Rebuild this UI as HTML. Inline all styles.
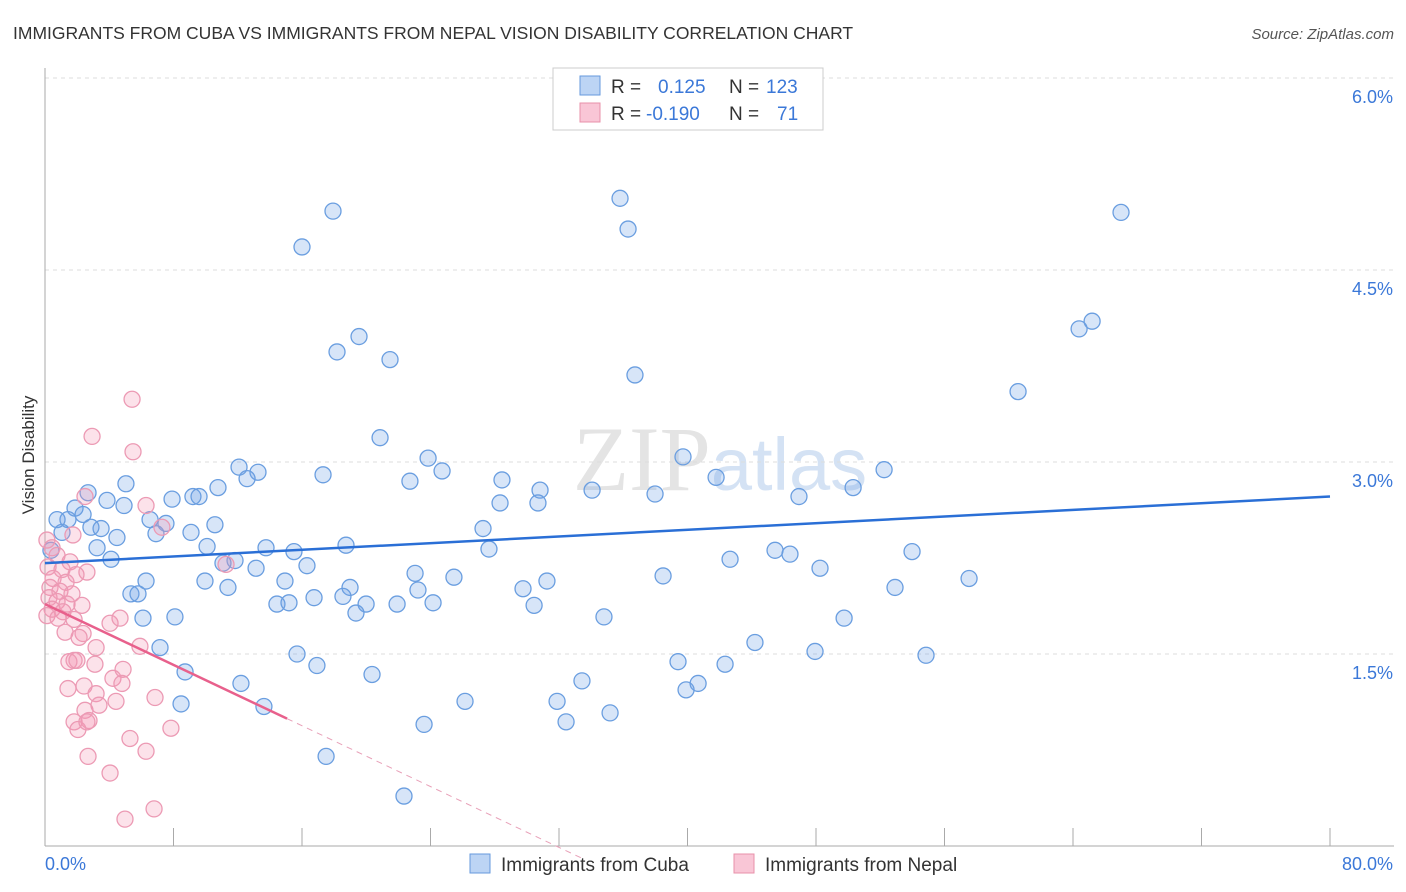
<!DOCTYPE html>
<html><head><meta charset="utf-8">
<style>
body{margin:0;background:#fff;font-family:"Liberation Sans",sans-serif;}
svg{display:block}
</style></head><body>
<svg id="chart" width="1406" height="892">
<text x="13" y="39" font-size="17.5" fill="#333">IMMIGRANTS FROM CUBA VS IMMIGRANTS FROM NEPAL VISION DISABILITY CORRELATION CHART</text>
<text x="1394" y="39" font-size="15" fill="#555" font-style="italic" text-anchor="end">Source: ZipAtlas.com</text>
<text x="720" y="490" font-size="92" fill="#e4e4e4" text-anchor="middle" font-family="Liberation Serif,serif">ZIP<tspan fill="#d4e2f4" font-family="Liberation Sans,sans-serif" font-size="74">atlas</tspan></text>
<g id="grid"></g>
<g id="axes"></g>
<g id="marks"></g>
<text transform="translate(34,455) rotate(-90)" font-size="17" fill="#333" text-anchor="middle">Vision Disability</text>
<g>
<rect x="553" y="68" width="270" height="62" fill="#fff" stroke="#ccc"/>
<rect x="580" y="76" width="20" height="19" fill="#bcd4f4" stroke="#6699dd"/>
<rect x="580" y="103" width="20" height="19" fill="#f9c6d6" stroke="#e890aa"/>
<text x="611" y="93" font-size="19" fill="#333">R = <tspan fill="#3b78d8" x="658">0.125</tspan><tspan fill="#333" x="729">N =</tspan><tspan fill="#3b78d8" x="766">123</tspan></text>
<text x="611" y="120" font-size="19" fill="#333">R = <tspan fill="#3b78d8" x="646">-0.190</tspan><tspan fill="#333" x="729">N =</tspan><tspan fill="#3b78d8" x="777">71</tspan></text>
</g>
<g>
<rect x="470" y="854" width="20" height="19" fill="#bcd4f4" stroke="#6699dd"/>
<text x="501" y="871" font-size="19" fill="#333">Immigrants from Cuba</text>
<rect x="734" y="854" width="20" height="19" fill="#f9c6d6" stroke="#e890aa"/>
<text x="765" y="871" font-size="19" fill="#333">Immigrants from Nepal</text>
</g>
</svg>
<script>
const cubaX=[17.93,35.80,36.30,66.99,16.00,65.19,64.38,19.55,18.18,21.48,36.73,60.58,20.86,23.85,39.72,24.72,12.08,13.26,17.31,28.45,52.24,41.78,5.04,22.72,12.58,10.77,50.31,30.82,34.06,37.98,46.94,2.68,7.91,9.21,9.59,3.86,28.33,30.69,4.92,1.87,2.37,6.54,0.75,1.43,7.53,10.58,27.27,2.86,3.49,9.09,1.06,4.48,6.91,18.74,3.24,10.09,13.76,27.64,15.50,45.45,46.38,53.98,0.37,42.65,4.11,11.83,11.08,13.14,16.31,48.25,23.04,25.46,38.48,57.53,6.29,9.96,14.94,11.39,31.25,18.99,29.76,23.22,52.92,5.35,5.79,16.75,18.55,14.44,15.19,21.92,19.99,30.45,24.16,8.09,6.10,19.36,34.80,49.75,44.20,7.16,15.69,47.94,54.85,39.41,42.34,16.93,8.72,20.36,33.43,40.66,39.91,12.20,26.15,31.88,8.47,13.63,35.18,32.44,23.60,17.50,22.35];
const cubaY=[4.96,5.06,4.82,4.95,4.68,4.10,4.04,3.98,3.86,3.80,3.68,3.55,3.19,3.03,3.04,2.93,2.96,2.92,2.90,2.86,2.94,2.88,2.83,2.85,2.87,2.80,2.80,2.78,2.78,2.75,2.73,2.76,2.71,2.73,2.73,2.70,2.68,2.68,2.66,2.64,2.59,2.55,2.55,2.55,2.52,2.51,2.48,2.49,2.48,2.45,2.45,2.41,2.44,2.35,2.33,2.34,2.33,2.32,2.30,2.31,2.28,2.30,2.31,2.24,2.24,2.23,2.21,2.17,2.19,2.17,2.13,2.10,2.11,2.09,2.07,2.07,2.07,2.02,2.07,2.02,2.01,2.00,2.02,1.97,1.97,1.94,1.95,1.89,1.90,1.89,1.89,1.88,1.90,1.79,1.78,1.82,1.79,1.78,1.59,1.55,1.50,1.52,1.49,1.44,1.42,1.41,1.36,1.34,1.29,1.27,1.22,1.27,1.13,1.13,1.11,1.09,1.04,0.97,0.95,0.70,0.39];
const nepalX=[5.42,2.93,5.48,2.49,6.29,7.28,1.74,0.12,0.44,0.75,1.56,0.19,1.06,2.61,1.93,0.50,1.31,0.31,0.93,1.68,0.25,0.75,1.37,2.30,0.44,1.12,0.12,0.81,1.81,1.25,2.37,2.12,4.05,4.67,3.18,1.81,1.49,1.99,5.91,4.86,2.43,1.43,3.18,4.23,4.79,6.85,2.49,1.81,3.36,2.74,2.05,2.61,4.42,5.29,7.84,6.29,2.68,4.05,6.79,4.98,11.27,3.11];
const nepalY=[3.49,3.20,3.08,2.73,2.66,2.49,2.43,2.39,2.33,2.27,2.22,2.18,2.16,2.14,2.12,2.09,2.06,2.02,1.99,1.97,1.94,1.91,1.89,1.88,1.85,1.83,1.80,1.78,1.77,1.67,1.66,1.63,1.74,1.78,1.55,1.45,1.44,1.45,1.56,1.38,1.25,1.23,1.19,1.31,1.27,1.16,1.06,0.97,1.10,0.98,0.91,0.97,1.13,0.84,0.92,0.74,0.70,0.57,0.29,0.21,2.20,1.42];
const yTicks=[1.5,3.0,4.5,6.0];
const yTickLabels=["1.5%","3.0%","4.5%","6.0%"];
const xTicks=[0,8,16,24,32,40,48,56,64,72,80];
const cubaTrend=[2.21,2.73];
const nepalTrend=[1.89,-0.1];
const nepalSolidEnd=15.07;

const NS="http://www.w3.org/2000/svg";
const X0=45,X1=1330,Y0=846;
const sx=v=>X0+(v/80)*(X1-X0);
const sy=v=>Y0-v*128;
function mk(tag,attrs,parent){const e=document.createElementNS(NS,tag);for(const k in attrs)e.setAttribute(k,attrs[k]);parent.appendChild(e);return e;}
const grid=document.getElementById('grid'),axes=document.getElementById('axes'),marks=document.getElementById('marks');
yTicks.forEach((t,i)=>{
  const l=mk('line',{x1:X0,x2:1394,y1:sy(t),y2:sy(t),stroke:'#ddd','stroke-dasharray':'4,4'},grid);
  
  
  const tx=mk('text',{x:1393,y:sy(t)+25,'font-size':18,fill:'#3b78d8','text-anchor':'end'},axes);
  tx.textContent=yTickLabels[i];
  
  
});
const ya=mk('line',{x1:X0,x2:X0,y1:68,y2:Y0,stroke:'#aaa'},axes);


const xa=mk('line',{x1:X0,x2:1394,y1:Y0,y2:Y0,stroke:'#aaa'},axes);


xTicks.forEach(t=>{
  const l=mk('line',{x1:sx(t),x2:sx(t),y1:828,y2:Y0,stroke:'#aaa'},axes);
  
  
});
const xl0=mk('text',{x:45,y:870,'font-size':18,fill:'#3b78d8'},axes);xl0.textContent='0.0%';


const xl1=mk('text',{x:1393,y:870,'font-size':18,fill:'#3b78d8','text-anchor':'end'},axes);xl1.textContent='80.0%';



cubaX.forEach((x,i)=>{
  const c=mk('circle',{cx:sx(x),cy:sy(cubaY[i]),r:8,fill:'rgba(110,160,230,0.28)',stroke:'#6a9ee0','stroke-width':1.3},marks);
  
  
});
nepalX.forEach((x,i)=>{
  const c=mk('circle',{cx:sx(x),cy:sy(nepalY[i]),r:8,fill:'rgba(244,150,180,0.28)',stroke:'#ec9ab4','stroke-width':1.3},marks);
  
  
});
const bt=mk('line',{x1:sx(0),y1:sy(cubaTrend[0]),x2:sx(80),y2:sy(cubaTrend[1]),stroke:'#2a6fd6','stroke-width':2.5},marks);


const nAt=x=>nepalTrend[0]+(nepalTrend[1]-nepalTrend[0])*x/33.5;
const ps=mk('line',{x1:sx(0),y1:sy(nepalTrend[0]),x2:sx(nepalSolidEnd),y2:sy(nAt(nepalSolidEnd)),stroke:'#e8608c','stroke-width':2.5},marks);


const pd=mk('line',{x1:sx(nepalSolidEnd),y1:sy(nAt(nepalSolidEnd)),x2:sx(33.5),y2:sy(nepalTrend[1]),stroke:'#e8a0b8','stroke-width':1,'stroke-dasharray':'6,5'},marks);


</script>
</body></html>
